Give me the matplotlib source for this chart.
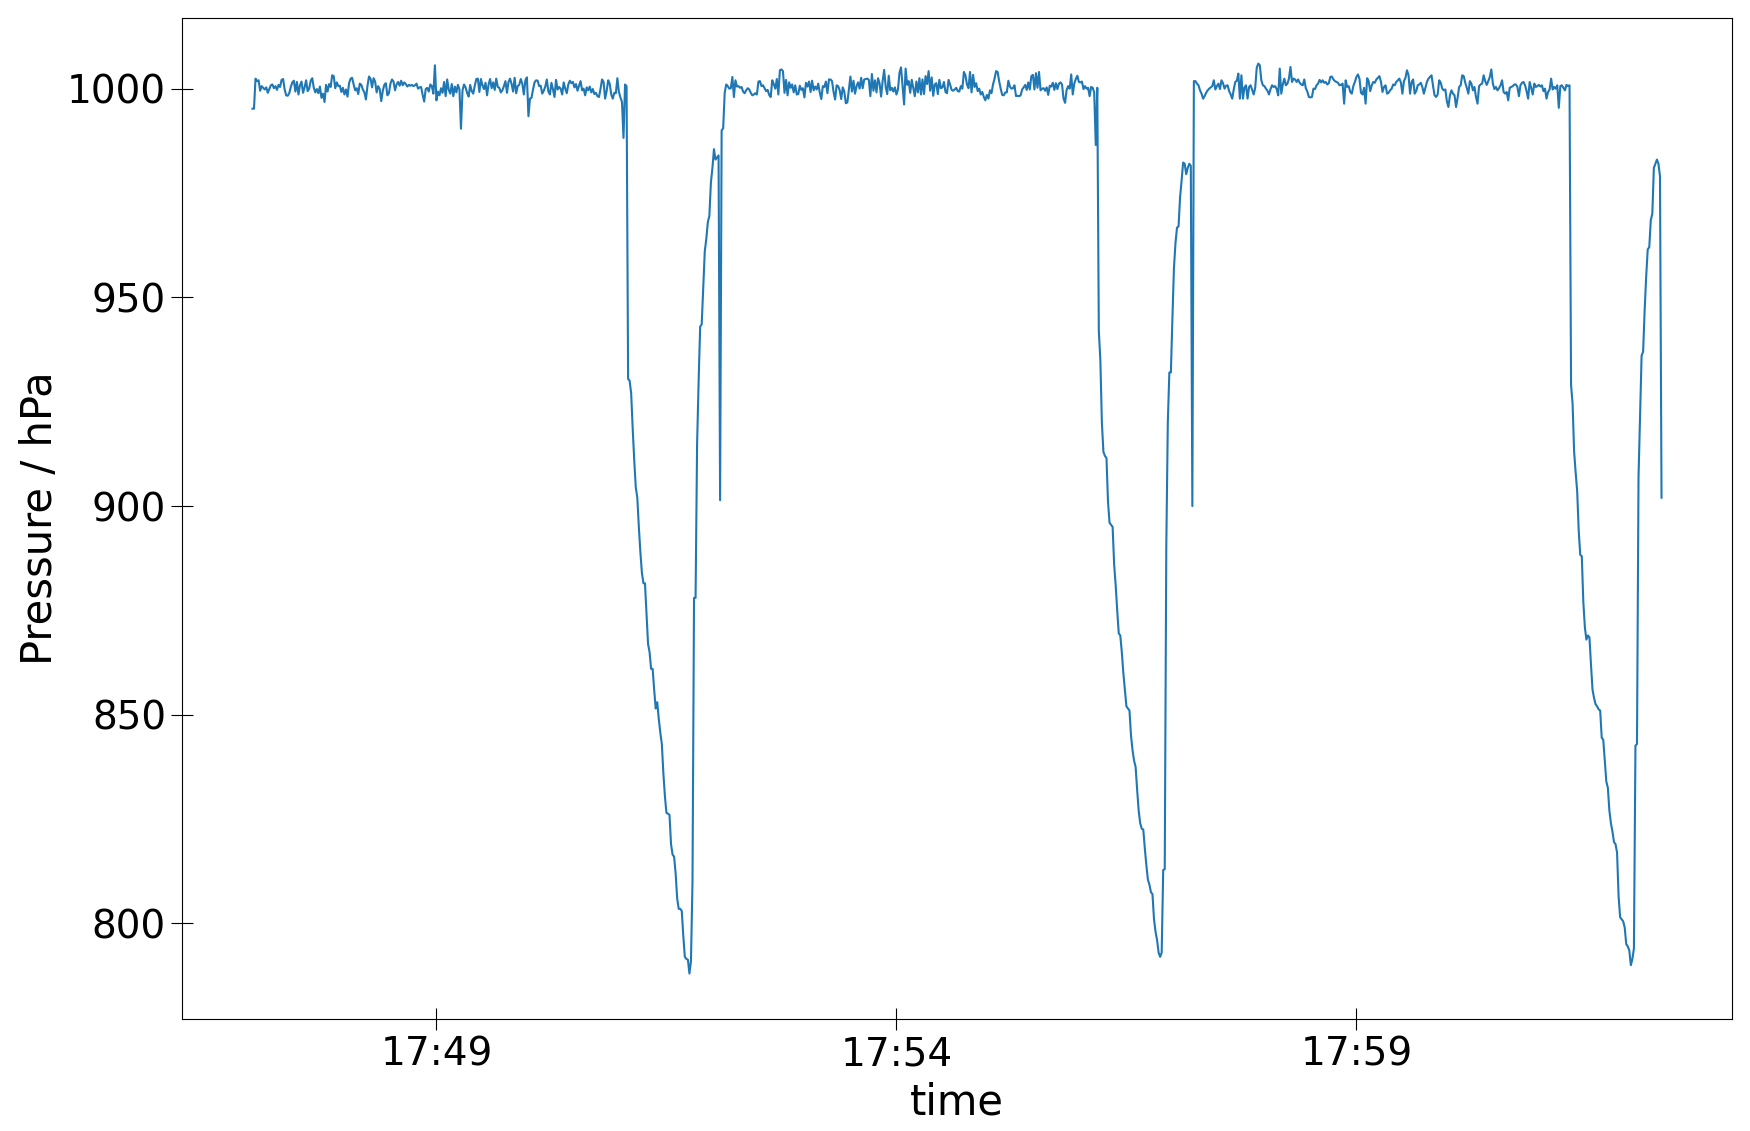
import matplotlib
matplotlib.use("Agg")
import matplotlib.pyplot as plt
import matplotlib.dates as mdates
import pandas as pd

# pressure readings, one per second starting 17:47:00
flat1 = [
    995.2, 995.2, 1002.4, 1001.8, 1002.0, 999.5, 1000.6, 1000.2, 999.8, 1000.3, 999.0, 999.9, 1000.8, 1001.0, 1000.1, 1000.6, 999.7, 1000.9, 1000.4, 1002.1,
    1002.3, 999.8, 998.4, 998.3, 998.9, 1000.4, 1001.5, 1001.9, 999.3, 1001.6, 998.6, 1000.8, 1001.7, 999.0, 1000.3, 1002.0, 999.4, 1000.0, 1001.9, 1002.5,
    1000.2, 999.1, 999.9, 998.9, 1000.5, 997.8, 998.8, 996.8, 1000.9, 999.3, 1001.1, 1000.4, 1003.2, 1003.0, 1000.1, 1001.5, 1000.6, 1000.7, 999.2, 1000.2,
    998.6, 999.8, 998.1, 1001.3, 1002.4, 1002.6, 1001.0, 999.6, 1000.1, 998.7, 1001.2, 1000.9, 999.8, 999.1, 997.4, 1000.6, 1002.9, 1002.4, 1000.3, 1002.5,
    1001.7, 999.1, 1000.6, 999.9, 997.0, 999.5, 1000.9, 1001.3, 998.4, 998.9, 1001.2, 1002.2, 1001.7, 999.6, 1001.0, 1001.6, 1000.7, 1001.9, 1000.8, 1001.5,
    1001.1, 1000.5, 1000.9, 1000.7, 1000.9, 1000.6, 1000.8, 1001.2, 1000.0, 1000.3, 1000.4, 998.5, 996.9, 999.9, 1000.2, 999.3, 1001.0, 1000.6, 998.8, 1005.6,
    997.2, 999.3, 998.4, 1000.1, 999.0, 1001.6, 998.2, 1002.2, 999.7, 998.8, 1001.1, 998.2, 1000.5, 999.1, 1000.9, 999.8, 990.4, 999.6, 1001.0, 1000.3,
    999.0, 998.1, 1000.9, 999.4, 998.8, 1000.7, 1002.3, 1002.4, 999.2, 1002.3, 1000.8, 999.9, 1001.4, 998.4, 1001.0, 1002.3, 1000.1, 1001.5, 999.7, 1002.4,
    1000.4, 1000.2, 999.1, 999.6, 1000.6, 1001.8, 999.0, 1001.6, 1002.4, 1001.1, 999.3, 1002.6, 998.9, 1000.6, 1000.9, 1002.3, 1001.2, 998.6, 1002.0, 1002.7,
    993.4, 997.6, 997.8, 999.8, 1001.5, 1002.0, 1001.9, 1000.6, 1000.7, 998.8, 999.5, 1000.5, 1002.2, 999.3, 998.6, 1001.4, 999.8, 998.0, 1002.1, 999.8,
    1000.4, 1000.0, 998.6, 1001.5, 1000.0, 998.9, 1001.0, 1001.9, 1001.3, 1001.6, 1000.3, 1001.1, 999.5, 1000.7, 1001.8, 999.6, 1000.0, 998.4, 1000.3, 999.6,
    1000.5, 999.1, 999.9, 998.7, 999.0, 998.2, 998.0, 999.9, 1002.2, 1001.6, 997.6, 999.4, 1002.0, 1001.2, 998.6, 997.6, 999.0, 998.9, 1002.5, 999.2,
    997.9, 996.8, 988.2, 1001.0, 1000.6,
]

cycle1 = [
    930.5, 930.0, 927.0, 918.5, 911.0, 904.5, 902.0, 895.0, 889.0, 884.0,
    881.5, 881.5, 874.0, 867.0, 865.0, 861.0, 861.0, 856.0, 851.5, 853.0,
    849.0, 845.7, 843.0, 836.0, 830.5, 826.5, 826.3, 826.0, 819.0, 816.5,
    816.0, 812.0, 806.0, 803.5, 803.5, 803.0, 797.0, 792.0, 791.5, 791.3,
    788.0, 791.0, 810.0, 878.0, 878.0, 915.0, 930.0, 943.0, 943.5, 952.0,
    961.0, 964.0, 968.0, 969.5, 977.5, 981.0, 985.5, 983.0, 983.5, 984.0,
    901.4, 990.0, 990.5, 999.0, 1001.0,
]

flat2 = [
    1000.6, 1000.0, 1000.1, 1002.8, 998.0, 1002.0, 1000.5, 1000.6, 1000.2, 1000.4, 999.3, 998.9, 999.6, 1000.1, 999.8, 999.0, 998.4, 998.6, 998.9, 998.6,
    1001.7, 1001.8, 1000.6, 1000.8, 1000.1, 999.4, 999.7, 998.5, 998.0, 1002.0, 1001.1, 1000.0, 1002.3, 998.6, 1004.4, 1004.6, 1004.2, 999.0, 1002.1, 998.4,
    1001.5, 1000.2, 1001.0, 999.1, 1000.8, 998.6, 998.7, 1000.7, 999.7, 1000.1, 997.9, 1001.4, 1000.5, 1001.7, 999.2, 1001.9, 999.6, 1000.5, 999.8, 1001.2,
    999.1, 997.5, 1000.6, 1000.4, 1001.7, 998.9, 1002.2, 1002.2, 1001.8, 999.2, 997.4, 1000.8, 1000.6, 999.6, 997.5, 1000.3, 999.3, 996.5, 996.7, 999.9,
    1002.9, 999.3, 1001.9, 998.8, 1000.6, 1001.5, 1000.0, 1002.6, 1000.1, 1002.2, 1002.3, 1002.4, 1002.1, 998.2, 1003.5, 999.5, 1002.0, 999.1, 1002.5, 1001.3,
    998.1, 1001.8, 1004.5, 1000.4, 998.7, 1003.1, 999.6, 1000.2, 999.3, 1000.3, 998.6, 999.8, 1003.8, 1005.1, 1000.6, 996.2, 1004.8, 1000.9, 1001.8, 999.0,
    1002.1, 1000.2, 998.2, 1001.7, 999.1, 1002.5, 998.6, 1002.2, 998.7, 1003.0, 1001.1, 1004.2, 999.5, 1002.7, 998.3, 1001.0, 1001.3, 998.7, 1002.1, 1000.1,
    1000.3, 1001.6, 999.2, 998.9, 1002.1, 1001.0, 999.7, 999.5, 999.8, 1000.2, 999.4, 999.3, 1000.6, 1000.0, 1004.0, 1003.2, 1001.0, 1000.1, 1004.0, 999.1,
    1003.3, 1000.4, 1001.3, 999.4, 1000.0, 998.6, 999.2, 998.0, 997.2, 998.5, 997.6, 999.6, 998.9, 1001.0, 1002.4, 1004.2, 1004.0, 1001.8, 1000.0, 998.5,
    998.4, 999.1, 999.1, 1001.9, 1000.5, 1000.0, 1000.1, 1000.8, 998.2, 998.3, 998.2, 998.4, 999.8, 1000.3, 1000.9, 999.7, 1001.5, 999.8, 1003.0, 1003.3,
    999.8, 1003.7, 1000.2, 1004.0, 999.6, 1000.0, 1000.1, 999.5, 1000.3, 998.5, 1000.7, 1000.5, 1001.4, 999.7, 1001.3, 999.9, 1001.2, 1001.5, 1001.0, 997.6,
    996.6, 999.7, 1000.6, 1000.0, 1003.4, 998.6, 1001.2, 1002.3, 1003.1, 1001.6, 1001.5, 1001.7, 999.9, 1000.6, 1000.0, 1000.2, 998.2, 1000.4, 1000.2, 999.1,
    986.5, 1000.2,
]

cycle2 = [
    942.0, 935.0, 920.0, 913.0, 912.0, 911.5, 901.0, 896.0, 895.5, 895.0,
    886.0, 881.0, 875.0, 869.5, 869.0, 865.0, 860.0, 856.0, 852.0, 851.5,
    851.0, 845.0, 841.5, 839.0, 837.5, 832.0, 827.0, 824.0, 822.7, 822.5,
    818.0, 814.0, 810.5, 809.3, 807.5, 807.0, 801.0, 798.0, 796.0, 793.0,
    792.0, 793.0, 812.8, 813.0, 890.0, 920.0, 932.0, 932.0, 945.0, 957.0,
    963.0, 966.7, 967.0, 974.0, 978.0, 982.3, 982.0, 979.5, 981.0, 982.0,
    981.5, 900.0, 1001.8,
]

flat3 = [
    1001.8, 1001.2, 1000.8, 999.6, 998.8, 997.6, 998.2, 999.0, 999.6, 1000.0, 1000.3, 1000.6, 1002.0, 999.8, 1000.6, 1001.2, 999.9, 1002.0, 1001.3, 1000.0,
    1000.7, 1000.8, 999.4, 998.6, 997.6, 999.8, 1001.6, 1001.9, 1003.6, 997.6, 1003.2, 997.6, 1000.3, 1000.8, 997.6, 1000.4, 1000.8, 999.7, 998.6, 1000.2,
    1005.0, 1006.0, 1005.6, 1002.0, 1000.8, 1000.6, 1000.0, 999.5, 998.6, 999.9, 1000.8, 1000.4, 1000.6, 999.9, 998.4, 1004.8, 998.8, 1001.0, 1002.4, 1000.8,
    1001.2, 1002.4, 1005.2, 1001.6, 1002.4, 1002.2, 1001.6, 1002.2, 1001.4, 1001.0, 1000.8, 1002.2, 1000.1, 999.3, 998.0, 997.9, 998.0, 1000.0, 999.9, 1000.8,
    1001.2, 1002.1, 1001.5, 1002.0, 1001.4, 1001.6, 1001.0, 1001.3, 1002.8, 1002.9, 1002.2, 1001.8, 1001.6, 1001.4, 1000.8, 1000.9, 1001.2, 996.4, 1002.0, 1000.4,
    1000.6, 999.2, 998.8, 1000.6, 1001.6, 1002.8, 1003.4, 1002.4, 999.0, 998.6, 1000.2, 996.4, 1002.5, 1001.8, 999.4, 1000.8, 1001.6, 1001.4, 1002.2, 1002.6,
    1003.0, 1001.7, 999.2, 1000.4, 1000.8, 998.8, 999.0, 999.6, 1000.0, 1001.0, 1000.8, 1001.6, 1002.0, 1002.4, 1001.5, 998.8, 1001.8, 1002.6, 1004.4, 1003.2,
    998.8, 1001.6, 1002.2, 998.8, 999.4, 1000.8, 1001.0, 1001.4, 1000.4, 998.8, 1000.2, 1001.6, 1002.4, 1002.8, 1003.2, 1000.6, 998.4, 998.0, 998.6, 1002.0,
    1001.4, 1000.0, 999.6, 999.8, 997.0, 995.6, 998.4, 999.6, 998.8, 998.4, 995.6, 997.8, 1000.4, 1000.8, 1003.2, 1003.0, 1001.4, 1000.2, 998.8, 1001.8,
    1001.2, 999.6, 1000.4, 998.0, 996.4, 1000.6, 1001.0, 1001.2, 1003.2, 1001.8, 1000.9, 1001.8, 1002.8, 1004.6, 1001.2, 999.9, 1000.4, 999.6, 1000.1, 1000.8,
    1002.0, 999.2, 998.8, 999.2, 997.2, 1000.2, 1000.4, 1000.6, 1001.0, 1001.0, 1000.4, 998.2, 1000.8, 1001.4, 1001.6, 1000.8, 999.4, 997.6, 1001.6, 1000.2,
    998.6, 1001.2, 1000.4, 1000.6, 1000.9, 1000.5, 1000.8, 999.4, 1000.0, 997.6, 999.2, 999.8, 1002.4, 999.8, 1000.4, 1000.0, 1000.8, 995.4, 1000.6, 1000.8,
    1000.2, 999.6, 1000.9, 1000.6, 1000.8,
]

cycle3 = [
    929.0, 924.5, 913.0, 908.0, 903.5, 894.0, 888.3, 888.0, 877.0, 871.0,
    868.0, 869.0, 868.5, 862.0, 856.0, 854.0, 852.5, 852.0, 851.3, 851.0,
    844.5, 844.0, 839.0, 834.0, 832.5, 827.0, 824.0, 822.0, 819.5, 819.0,
    817.0, 806.5, 801.5, 801.0, 800.5, 799.0, 795.0, 794.5, 793.5, 790.0,
    791.5, 794.0, 842.6, 843.0, 907.0, 921.0, 936.0, 937.0, 947.0, 955.0,
    961.5, 962.0, 968.5, 970.0, 981.0, 982.0, 983.0, 982.0, 979.0, 902.0,
]

start_time = "2019-05-14 17:47:00"
tick_times = ["2019-05-14 17:49", "2019-05-14 17:54", "2019-05-14 17:59"]

pressure = flat1 + cycle1 + flat2 + cycle2 + flat3 + cycle3
df = pd.DataFrame({"pressure": pressure},
                  index=pd.date_range(start_time, periods=len(pressure), freq="s"))

fig = plt.figure(figsize=(17.5, 11.31), dpi=100)
ax = fig.add_subplot()
fig.subplots_adjust(left=0.104, right=0.9897, top=0.984, bottom=0.099)
ax.plot(df.index, df["pressure"], color="tab:blue", lw=1.5)

ax.set_xticks(pd.to_datetime(tick_times))
ax.xaxis.set_major_formatter(mdates.DateFormatter("%H:%M"))
ax.tick_params(direction="inout", length=16, labelsize=28)
ax.set_xlabel("time", fontsize=30, labelpad=6)
ax.set_ylabel("Pressure / hPa", fontsize=30, labelpad=4)

plt.savefig("out.png", dpi=100)
